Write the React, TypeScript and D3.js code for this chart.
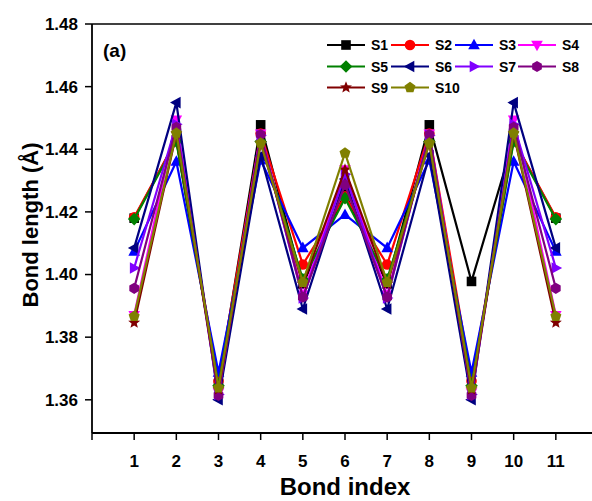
import React from "react";
import * as d3 from "d3";

const bondIndex = [1, 2, 3, 4, 5, 6, 7, 8, 9, 10, 11];
const seriesNames = ["S1", "S2", "S3", "S4", "S5", "S6", "S7", "S8", "S9", "S10"];
const S1 = [1.418, 1.443, 1.365, 1.4478, 1.397, 1.426, 1.397, 1.4478, 1.3978, 1.443, 1.418];
const S2 = [1.4183, 1.443, 1.366, 1.445, 1.4032, 1.425, 1.4032, 1.445, 1.366, 1.443, 1.4183];
const S3 = [1.4074, 1.4361, 1.3687, 1.4365, 1.4085, 1.4191, 1.4085, 1.4365, 1.3687, 1.4361, 1.4074];
const S4 = [1.387, 1.4494, 1.3622, 1.4449, 1.3935, 1.4335, 1.3935, 1.4449, 1.3622, 1.4494, 1.387];
const S5 = [1.4177, 1.4425, 1.3645, 1.4425, 1.3985, 1.4244, 1.3985, 1.4425, 1.3645, 1.4425, 1.4177];
const S6 = [1.4085, 1.4549, 1.3600, 1.438, 1.389, 1.4305, 1.389, 1.438, 1.3600, 1.4549, 1.4085];
const S7 = [1.4021, 1.448, 1.3617, 1.4445, 1.3925, 1.432, 1.3925, 1.4445, 1.3617, 1.448, 1.4021];
const S8 = [1.3956, 1.447, 1.3614, 1.4447, 1.3928, 1.4287, 1.3928, 1.4447, 1.3614, 1.447, 1.3956];
const S9 = [1.3846, 1.445, 1.3633, 1.442, 1.397, 1.4335, 1.397, 1.442, 1.3633, 1.445, 1.3846];
const S10 = [1.3867, 1.4452, 1.3638, 1.442, 1.3975, 1.4388, 1.3975, 1.442, 1.3638, 1.4452, 1.3867];
const yTicks = [1.36, 1.38, 1.4, 1.42, 1.44, 1.46, 1.48];
const xTicks = [1, 2, 3, 4, 5, 6, 7, 8, 9, 10, 11];

const allSeries = [S1, S2, S3, S4, S5, S6, S7, S8, S9, S10];
const colors = ["#000000", "#ff0000", "#0000ff", "#ff00ff", "#008000", "#000080", "#8000ff", "#800080", "#800000", "#808000"];
const symbols = ["square", "circle", "up", "down", "diamond", "left", "right", "hexagon", "star", "pentagon"];

const W = 592, H = 501;
const L = 92, T = 24, R = 598, B = 433;
const x = d3.scaleLinear().domain([0, 12]).range([L, R]);
const y = d3.scaleLinear().domain([1.3494, 1.48]).range([B, T]);

function polygon(n: number, r: number, rot: number) {
  const pts: string[] = [];
  for (let i = 0; i < n; i++) {
    const a = rot + (i * 2 * Math.PI) / n;
    pts.push(`${(r * Math.cos(a)).toFixed(2)},${(r * Math.sin(a)).toFixed(2)}`);
  }
  return pts.join(" ");
}

function Marker({ kind, cx, cy, color }: { kind: string; cx: number; cy: number; color: string }) {
  const s = 5.3;
  let el: React.ReactNode;
  switch (kind) {
    case "square":
      el = <rect x={-4.8} y={-4.8} width={9.6} height={9.6} />;
      break;
    case "circle":
      el = <circle r={5.3} />;
      break;
    case "up":
      el = <polygon points={`0,${-s - 1} ${s + 0.5},${s - 1} ${-s - 0.5},${s - 1}`} />;
      break;
    case "down":
      el = <polygon points={`0,${s + 1} ${s + 0.5},${-s + 1} ${-s - 0.5},${-s + 1}`} />;
      break;
    case "left":
      el = <polygon points={`${-s - 1},0 ${s - 1},${s + 0.5} ${s - 1},${-s - 0.5}`} />;
      break;
    case "right":
      el = <polygon points={`${s + 1},0 ${-s + 1},${s + 0.5} ${-s + 1},${-s - 0.5}`} />;
      break;
    case "diamond":
      el = <polygon points={`0,-6.3 6.3,0 0,6.3 -6.3,0`} />;
      break;
    case "hexagon":
      el = <polygon points={polygon(6, 5.6, Math.PI / 2)} />;
      break;
    case "pentagon":
      el = <polygon points={polygon(5, 5.8, -Math.PI / 2)} />;
      break;
    case "star": {
      const pts: string[] = [];
      for (let i = 0; i < 10; i++) {
        const r = i % 2 === 0 ? 6.3 : 2.7;
        const a = -Math.PI / 2 + (i * Math.PI) / 5;
        pts.push(`${(r * Math.cos(a)).toFixed(2)},${(r * Math.sin(a)).toFixed(2)}`);
      }
      el = <polygon points={pts.join(" ")} />;
      break;
    }
    default:
      el = <circle r={4} />;
  }
  return (
    <g transform={`translate(${cx},${cy})`} fill={color} stroke="none">
      {el}
    </g>
  );
}

export default function App() {
  const line = d3
    .line<number>()
    .x((_, i) => x(bondIndex[i]))
    .y((d) => y(d));
  const font = "'Liberation Sans', Arial, sans-serif";
  const legendCols = [327, 391, 455, 518];
  const legendRows = [45, 66.5, 87.5];
  return (
    <svg
      width={W}
      height={H}
      style={{ position: "absolute", left: 0, top: 0, background: "#fff" }}
      fontFamily={font}
      fontWeight="bold"
    >
      <rect x={0} y={0} width={W} height={H} fill="#fff" />
      {allSeries.map((s, si) => (
        <g key={si}>
          <path d={line(s) || ""} fill="none" stroke={colors[si]} strokeWidth={2.2} />
          {s.map((v, i) => (
            <Marker key={i} kind={symbols[si]} cx={x(bondIndex[i])} cy={y(v)} color={colors[si]} />
          ))}
        </g>
      ))}
      <line x1={L} y1={T} x2={R} y2={T} stroke="#000" strokeWidth={1.5} />
      <line x1={L} y1={T} x2={L} y2={B} stroke="#000" strokeWidth={1.8} />
      <line x1={L} y1={B} x2={R} y2={B} stroke="#000" strokeWidth={1.8} />
      {yTicks.map((t) => (
        <g key={t}>
          <line x1={L - 7} x2={L} y1={y(t)} y2={y(t)} stroke="#000" strokeWidth={1.5} />
          <text x={L - 14} y={y(t)} dy="0.35em" textAnchor="end" fontSize={17}>
            {t.toFixed(2)}
          </text>
        </g>
      ))}
      <line x1={x(0)} x2={x(0)} y1={B} y2={B + 7} stroke="#000" strokeWidth={1.5} />
      {xTicks.map((t) => (
        <g key={t}>
          <line x1={x(t)} x2={x(t)} y1={B} y2={B + 7} stroke="#000" strokeWidth={1.5} />
          <text x={x(t)} y={B + 34} textAnchor="middle" fontSize={17}>
            {t}
          </text>
        </g>
      ))}
      <text x={345} y={495} textAnchor="middle" fontSize={24}>
        Bond index
      </text>
      <text transform={`translate(38,225) rotate(-90)`} textAnchor="middle" fontSize={22}>
        Bond length (Å)
      </text>
      <text x={103} y={57} fontSize={19}>
        (a)
      </text>
      {seriesNames.map((name, i) => {
        const cx = legendCols[i % 4];
        const cy = legendRows[Math.floor(i / 4)];
        return (
          <g key={name}>
            <line x1={cx} x2={cx + 38} y1={cy} y2={cy} stroke={colors[i]} strokeWidth={2} />
            <Marker kind={symbols[i]} cx={cx + 19} cy={cy} color={colors[i]} />
            <text x={cx + 44} y={cy} dy="0.36em" fontSize={14}>
              {name}
            </text>
          </g>
        );
      })}
    </svg>
  );
}
